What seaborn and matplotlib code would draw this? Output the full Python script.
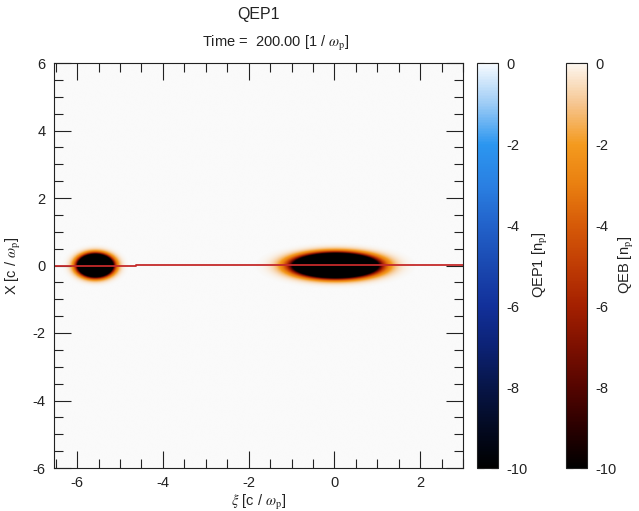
import numpy as np
import matplotlib
matplotlib.use("Agg")
import matplotlib.pyplot as plt
import seaborn as sns
from matplotlib.colors import LinearSegmentedColormap, Normalize
from matplotlib.cm import ScalarMappable
from matplotlib.ticker import MultipleLocator

# ---------------- data ----------------
xi_range = [-6.54, 3.0]
x_range = [-6.0, 6.0]
beam_xi_center = [-5.58, 0.03]
beam_x_center = [0.0, 0.0]
beam_sigma_xi = [0.195, 0.47]
beam_sigma_x = [0.16, 0.172]
beam_peak = [-100.0, -100.0]

lineout_xi = [-6.54, -4.62, -4.62, 3.0]
lineout_x = [-0.01, -0.01, 0.02, 0.02]

cbar_ticks = [0, -2, -4, -6, -8, -10]
axis_ticks = [-6, -4, -2, 0, 2, 4, 6]
time_value = 200.00

# ---------------- style ----------------
sns.set_theme(style="ticks")
plt.rcParams["font.family"] = ["Liberation Sans", "DejaVu Sans"]
plt.rcParams["mathtext.fontset"] = "stix"
plt.rcParams["axes.unicode_minus"] = False

blue_stops = [(0.0, "#000000"), (0.1, "#030a22"), (0.2, "#071548"), (0.3, "#0c2275"),
              (0.4, "#12309a"), (0.5, "#1a48b0"), (0.6, "#2262ca"), (0.7, "#2a80e2"),
              (0.8, "#2b96f0"), (0.9, "#9ccbf5"), (1.0, "#f7fbff")]
orange_stops = [(0.0, "#000000"), (0.1, "#2a0000"), (0.2, "#550500"), (0.3, "#7d1000"),
                (0.4, "#a42000"), (0.5, "#c03c04"), (0.6, "#d65a08"), (0.7, "#e97f10"),
                (0.8, "#f49a1e"), (0.9, "#f6c58f"), (1.0, "#fdf7f0")]
blue_cmap = LinearSegmentedColormap.from_list("qep1", blue_stops)
orange_cmap = LinearSegmentedColormap.from_list("qeb", orange_stops)
orange_img = LinearSegmentedColormap.from_list(
    "qeb_img", orange_stops[:-2] + [(0.93, "#f8d6b0"), (1.0, "#fafafa")])
norm = Normalize(vmin=-10, vmax=0)

fig = plt.figure(figsize=(6.39, 5.11), dpi=100)
ax = fig.add_axes([54 / 639, 1 - 468 / 511, 409 / 639, 405 / 511])
ax.set_facecolor("#fafafa")

# density map
xi = np.linspace(xi_range[0], xi_range[1], 700)
xx = np.linspace(x_range[0], x_range[1], 600)
XI, XX = np.meshgrid(xi, xx)
rho = np.zeros_like(XI)
for c0, x0, sxi, sx, a in zip(beam_xi_center, beam_x_center, beam_sigma_xi,
                              beam_sigma_x, beam_peak):
    rho += a * np.exp(-((XI - c0) ** 2) / (2 * sxi ** 2) - ((XX - x0) ** 2) / (2 * sx ** 2))
ax.imshow(rho, extent=[xi_range[0], xi_range[1], x_range[0], x_range[1]],
          origin="lower", cmap=orange_img, norm=norm, aspect="auto",
          interpolation="bilinear")

sns.lineplot(x=lineout_xi, y=lineout_x, sort=False, estimator=None,
             color="#c42a2a", lw=1.3, ax=ax)

ax.set_xlim(xi_range)
ax.set_ylim(x_range)
ax.set_xticks([t for t in axis_ticks if xi_range[0] <= t <= xi_range[1]])
ax.set_yticks(axis_ticks)
ax.xaxis.set_minor_locator(MultipleLocator(0.5))
ax.yaxis.set_minor_locator(MultipleLocator(0.5))
ax.tick_params(which="both", direction="in", top=True, right=True,
               color="#222222", width=0.8, labelsize=10.5, labelcolor="#222222")
ax.tick_params(which="major", length=12, pad=6)
ax.tick_params(which="minor", length=6.5)
for s in ax.spines.values():
    s.set_color("#222222")
    s.set_linewidth(0.8)
ax.set_xlabel(r"$\xi$ [c / $\omega_{\mathrm{p}}$]", fontsize=10.5, color="#222222", labelpad=2)
ax.set_ylabel(r"X [c / $\omega_{\mathrm{p}}$]", fontsize=10.5, color="#222222", labelpad=7)

# colorbars
def make_cbar(left, cmap, label, label_x):
    cax = fig.add_axes([left / 639, 1 - 468 / 511, 21 / 639, 405 / 511])
    cb = fig.colorbar(ScalarMappable(norm=norm, cmap=cmap), cax=cax)
    cb.set_ticks(cbar_ticks)
    cb.ax.yaxis.set_minor_locator(MultipleLocator(0.5))
    cb.ax.tick_params(which="both", direction="in", left=True, right=True,
                      length=5, width=0.8, color="#222222", labelsize=10.5,
                      labelcolor="#222222", pad=6)
    cb.outline.set_edgecolor("#222222")
    cb.outline.set_linewidth(0.8)
    fig.text(label_x / 639, 1 - 265 / 511, label, rotation=90, ha="center",
             va="center", fontsize=10.5, color="#222222")
    return cb

make_cbar(477, blue_cmap, r"QEP1 [n$_{\mathrm{p}}$]", 540)
make_cbar(566, orange_cmap, r"QEB [n$_{\mathrm{p}}$]", 627)

fig.text(258 / 639, 1 - 14 / 511, "QEP1", ha="center", va="center",
         fontsize=11.5, color="#222222")
fig.text(276 / 639, 1 - 43 / 511,
         "Time =  %.2f [1 / $\\omega_{\\mathrm{p}}$]" % time_value,
         ha="center", va="center", fontsize=10.5, color="#222222")

fig.savefig("out.png", dpi=100, facecolor="white")
